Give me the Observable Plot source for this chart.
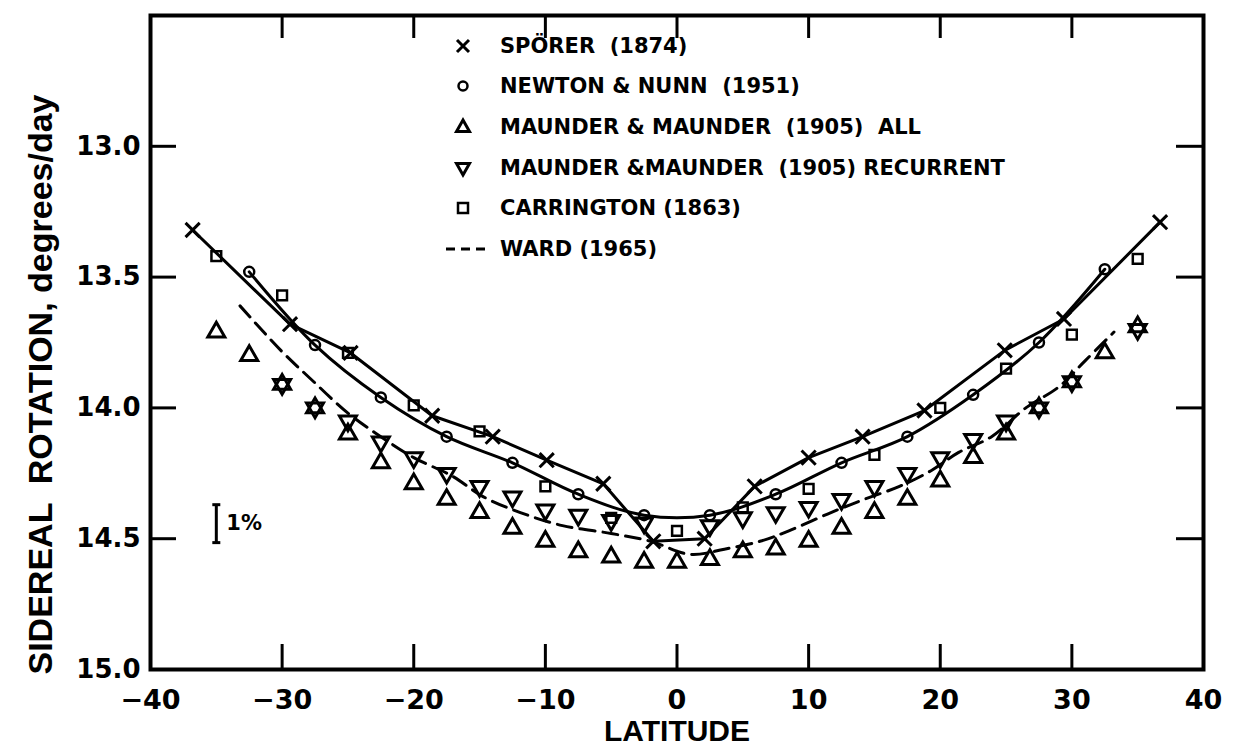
<!DOCTYPE html>
<html>
<head>
<meta charset="utf-8">
<script src="https://cdn.jsdelivr.net/npm/d3@7"></script>
<script src="https://cdn.jsdelivr.net/npm/@observablehq/plot@0.6"></script>
<style>
  html, body { margin: 0; padding: 0; background: #fff; }
  #wrap { position: relative; width: 1245px; height: 752px; overflow: hidden; }
  #legend { position: absolute; left: 0; top: 0; font-family: "DejaVu Sans", sans-serif; font-weight: bold; font-size: 21px; color: #000; }
  #legend .row { position: absolute; height: 30px; display: flex; align-items: center; white-space: pre; }
  #legend svg { position: absolute; overflow: visible; }
</style>
</head>
<body>
<div id="wrap"><div id="legend"></div></div>
<script>
// ---------------- data ----------------
const spoererLat = [-36.8, -29.4, -24.8, -18.6, -14.0, -9.9, -5.6, -1.8, 2.1, 5.9, 10.0, 14.1, 18.8, 24.9, 29.4, 36.7];
const spoererRot = [13.32, 13.68, 13.79, 14.03, 14.11, 14.20, 14.29, 14.51, 14.50, 14.30, 14.19, 14.11, 14.01, 13.78, 13.66, 13.29];

const newtonLat = [-32.5, -27.5, -22.5, -17.5, -12.5, -7.5, -2.5, 2.5, 7.5, 12.5, 17.5, 22.5, 27.5, 32.5];
const newtonRot = [13.48, 13.76, 13.96, 14.11, 14.21, 14.33, 14.41, 14.41, 14.33, 14.21, 14.11, 13.95, 13.75, 13.47];

const maunderAllLat = [-35, -32.5, -30, -27.5, -25, -22.5, -20, -17.5, -15, -12.5, -10, -7.5, -5, -2.5, 0, 2.5, 5, 7.5, 10, 12.5, 15, 17.5, 20, 22.5, 25, 27.5, 30, 32.5, 35];
const maunderAllRot = [13.71, 13.80, 13.91, 14.00, 14.10, 14.21, 14.29, 14.35, 14.40, 14.46, 14.51, 14.55, 14.57, 14.59, 14.59, 14.58, 14.55, 14.54, 14.51, 14.46, 14.40, 14.35, 14.28, 14.19, 14.10, 14.00, 13.90, 13.79, 13.69];

const maunderRecLat = [-30, -27.5, -25, -22.5, -20, -17.5, -15, -12.5, -10, -7.5, -5, -2.5, 2.5, 5, 7.5, 10, 12.5, 15, 17.5, 20, 22.5, 25, 27.5, 30, 35];
const maunderRecRot = [13.91, 14.00, 14.05, 14.13, 14.19, 14.25, 14.30, 14.34, 14.39, 14.41, 14.43, 14.44, 14.45, 14.42, 14.40, 14.38, 14.35, 14.30, 14.25, 14.19, 14.12, 14.05, 14.00, 13.90, 13.70];

const carringtonLat = [-35, -30, -25, -20, -15, -10, -5, 0, 5, 10, 15, 20, 25, 30, 35];
const carringtonRot = [13.42, 13.57, 13.79, 13.99, 14.09, 14.30, 14.42, 14.47, 14.38, 14.31, 14.18, 14.00, 13.85, 13.72, 13.43];

const wardLat = [-33.2, -30.1, -27.6, -25, -22.5, -20, -17.1, -14.7, -11.9, -8.7, -5, -2, 1, 3.6, 6.3, 8.5, 11.7, 14.2, 16.9, 19.3, 21.4, 23.9, 26.5, 29, 31, 33.2];
const wardRot = [13.61, 13.78, 13.90, 14.02, 14.11, 14.19, 14.26, 14.34, 14.40, 14.45, 14.48, 14.51, 14.56, 14.54, 14.51, 14.47, 14.40, 14.35, 14.30, 14.24, 14.17, 14.11, 14.00, 13.92, 13.82, 13.71];

// 1% scale bar
const onePercentLat = [-35];
const onePercentLo = [14.37];
const onePercentHi = [14.515];
const onePercentLabel = ["1%"];

// axes
const xTickValues = [-40, -30, -20, -10, 0, 10, 20, 30, 40];
const xInnerTicks = [-30, -20, -10, 0, 10, 20, 30];
const yTickValues = [13.0, 13.5, 14.0, 14.5, 15.0];
const yInnerTicks = [13.0, 13.5, 14.0, 14.5];
const xTitle = "LATITUDE";
const yTitle = "SIDEREAL  ROTATION, degrees/day";

const legendLabels = ["SPÖRER  (1874)", "NEWTON & NUNN  (1951)", "MAUNDER & MAUNDER  (1905)  ALL", "MAUNDER &MAUNDER  (1905) RECURRENT", "CARRINGTON (1863)", "WARD (1965)"];
const legendKinds = ["times", "circle", "triangle", "itriangle", "square", "dash"];

// ---------------- build ----------------
const zip = (a, b) => a.map((v, i) => ({lat: v, rot: b[i]}));
const spoerer = zip(spoererLat, spoererRot);
const newton = zip(newtonLat, newtonRot);
const maunderAll = zip(maunderAllLat, maunderAllRot);
const maunderRec = zip(maunderRecLat, maunderRecRot);
const carrington = zip(carringtonLat, carringtonRot);
const ward = zip(wardLat, wardRot);
const onePercent = onePercentLat.map((v, i) => ({lat: v, lo: onePercentLo[i], hi: onePercentHi[i], label: onePercentLabel[i]}));
const onePercentEnds = onePercent.flatMap(d => [{lat: d.lat, rot: d.lo}, {lat: d.lat, rot: d.hi}]);

const W = 1245, H = 752;
const mL = 150, mR = 42, mT = 15, mB = 83;
const innerW = W - mL - mR, innerH = H - mT - mB;

const hbar = { draw(ctx, size) { const r = Math.sqrt(size / Math.PI); ctx.moveTo(-r, 0); ctx.lineTo(r, 0); } };

const chart = Plot.plot({
  width: W, height: H,
  marginLeft: mL, marginRight: mR, marginTop: mT, marginBottom: mB,
  style: { fontFamily: "'DejaVu Sans', sans-serif", fontWeight: "bold", background: "white", color: "black" },
  x: { domain: [-40, 40] },
  y: { domain: [12.5, 15.0], reverse: true },
  marks: [
    Plot.axisX({ ticks: xTickValues, tickSize: 0, tickPadding: 20, tickFormat: d3.format("d"), fontSize: 27, label: null }),
    Plot.axisY({ ticks: yTickValues, tickSize: 0, tickPadding: 10, tickFormat: d3.format(".1f"), fontSize: 26, label: null }),
    // inward ticks on the four sides of the frame
    Plot.tickX(xInnerTicks, { x: d => d, insetTop: innerH - 25, strokeWidth: 3 }),
    Plot.tickX(xInnerTicks, { x: d => d, insetBottom: innerH - 23, strokeWidth: 3 }),
    Plot.tickY(yInnerTicks, { y: d => d, insetRight: innerW - 26, strokeWidth: 3 }),
    Plot.tickY(yInnerTicks, { y: d => d, insetLeft: innerW - 27, strokeWidth: 3 }),
    Plot.frame({ strokeWidth: 4 }),
    // curves
    Plot.line(ward, { x: "lat", y: "rot", stroke: "black", strokeWidth: 3, strokeDasharray: "15,8", curve: "catmull-rom" }),
    Plot.line(spoerer, { x: "lat", y: "rot", stroke: "black", strokeWidth: 3 }),
    Plot.line(newton, { x: "lat", y: "rot", stroke: "black", strokeWidth: 3, curve: "catmull-rom" }),
    // points
    Plot.dot(spoerer, { x: "lat", y: "rot", symbol: "times", r: 6.5, stroke: "black", fill: "none", strokeWidth: 3 }),
    Plot.dot(newton, { x: "lat", y: "rot", symbol: "circle", r: 5, stroke: "black", fill: "none", strokeWidth: 2.5 }),
    Plot.dot(maunderAll, { x: "lat", y: "rot", symbol: "triangle", r: 6.3, stroke: "black", fill: "none", strokeWidth: 3 }),
    Plot.dot(maunderRec, { x: "lat", y: "rot", symbol: "triangle", rotate: 180, r: 6.3, stroke: "black", fill: "none", strokeWidth: 3 }),
    Plot.dot(carrington, { x: "lat", y: "rot", symbol: "square", r: 5.5, stroke: "black", fill: "none", strokeWidth: 2.5 }),
    // 1% bar
    Plot.ruleX(onePercent, { x: "lat", y1: "lo", y2: "hi", strokeWidth: 3 }),
    Plot.dot(onePercentEnds, { x: "lat", y: "rot", symbol: hbar, r: 4, stroke: "black", strokeWidth: 3 }),
    Plot.text(onePercent, { x: "lat", y: d => (d.lo + d.hi) / 2, text: "label", textAnchor: "start", dx: 10, fontSize: 21, fontWeight: "bold" }),
    // axis titles
    Plot.text([xTitle], { frameAnchor: "bottom", textAnchor: "middle", lineAnchor: "middle", dy: 62, text: d => d, fontSize: 30, fontFamily: "'Liberation Sans', sans-serif", fontWeight: "bold" }),
    Plot.text([yTitle], { frameAnchor: "left", textAnchor: "middle", lineAnchor: "middle", dx: -109, dy: 42, rotate: -90, text: d => d, fontSize: 34, fontFamily: "'Liberation Sans', sans-serif", fontWeight: "bold" })
  ]
});
document.getElementById("wrap").prepend(chart);

// ---------------- legend (inside the plot area, as in the original) ----------------
const legend = document.getElementById("legend");
const rowY = [46, 86, 127, 168, 208, 249];
const symX = 463, textX = 500;
const sym = {
  times: '<path d="M-6,-6L6,6M6,-6L-6,6" stroke="black" stroke-width="3" fill="none"/>',
  circle: '<circle r="4.5" stroke="black" stroke-width="2.5" fill="none"/>',
  triangle: '<path d="M0,-7L6.5,4.5L-6.5,4.5Z" stroke="black" stroke-width="3" fill="none"/>',
  itriangle: '<path d="M0,7L6.5,-4.5L-6.5,-4.5Z" stroke="black" stroke-width="3" fill="none"/>',
  square: '<rect x="-5" y="-5" width="10" height="10" stroke="black" stroke-width="2.5" fill="none"/>',
  dash: '<path d="M-17,0L23,0" stroke="black" stroke-width="3" stroke-dasharray="9,6" fill="none"/>'
};
legendLabels.forEach((lab, i) => {
  const s = document.createElementNS("http://www.w3.org/2000/svg", "svg");
  s.setAttribute("width", 1); s.setAttribute("height", 1);
  s.style.left = symX + "px"; s.style.top = rowY[i] + "px";
  s.innerHTML = sym[legendKinds[i]];
  legend.appendChild(s);
  const r = document.createElement("div");
  r.className = "row";
  r.style.left = textX + "px"; r.style.top = (rowY[i] - 15) + "px";
  r.textContent = lab;
  legend.appendChild(r);
});
</script>
</body>
</html>
